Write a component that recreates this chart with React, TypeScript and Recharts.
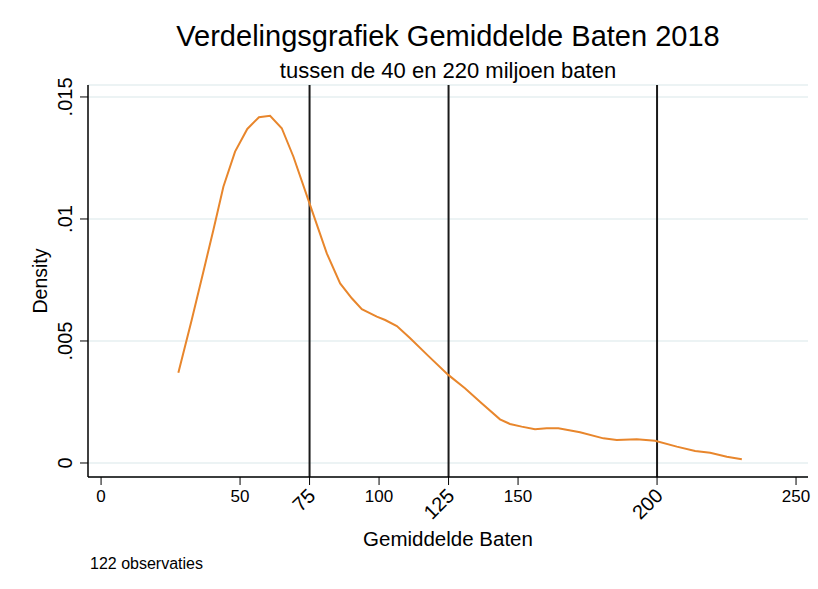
import React from "react";
import {
  CartesianGrid,
  Label,
  Line,
  LineChart,
  ReferenceLine,
  XAxis,
  YAxis,
} from "recharts";

// kernel density estimate
const baten = [
  27.8, 32.6, 36.8, 40.4, 44.0, 48.2, 52.6, 56.8, 60.8, 65.0, 69.2, 75.2,
  81.2, 86.0, 90.2, 93.8, 99.2, 102.2, 106.4, 111.2, 117.7, 124.9, 130.9,
  136.9, 143.5, 147.1, 151.3, 156.1, 160.3, 164.5, 172.3, 180.7, 185.5,
  192.7, 199.3, 207.1, 213.7, 219.1, 225.1, 230.5,
];
const density = [
  0.0037, 0.00586, 0.00784, 0.00955, 0.01132, 0.01276, 0.01369, 0.01417,
  0.01423, 0.01372, 0.01255, 0.01057, 0.00859, 0.00736, 0.00675, 0.0063,
  0.006, 0.00586, 0.00561, 0.00511, 0.00439, 0.00361, 0.00306, 0.00245,
  0.00179, 0.0016, 0.00149, 0.00138, 0.00142, 0.00142, 0.00126, 0.00101,
  0.00094, 0.00097, 0.00091, 0.00067, 0.00049, 0.00042, 0.00026, 0.00015,
];
const xTicks = [0, 50, 75, 100, 125, 150, 200, 250];
const markers = [75, 125, 200];
const yTicks = [0, 0.005, 0.01, 0.015];
const yTickLabels = ["0", ".005", ".01", ".015"];

const chartData = baten.map((x, i) => ({ x, y: density[i] }));

const FONT = "'Liberation Sans', Arial, Helvetica, sans-serif";

function XTick(props: any) {
  const { x, y, payload } = props;
  const v = payload.value;
  if (markers.includes(v)) {
    const ax = x + 7;
    const ay = y + 10;
    return (
      <text
        x={ax}
        y={ay}
        transform={`rotate(-45 ${ax} ${ay})`}
        textAnchor="end"
        fontSize={20}
        fill="#000"
        fontFamily={FONT}
      >
        {v}
      </text>
    );
  }
  return (
    <text
      x={x}
      y={y + 9}
      textAnchor="middle"
      dominantBaseline="central"
      fontSize={17}
      fill="#000"
      fontFamily={FONT}
    >
      {v}
    </text>
  );
}

function YTick(props: any) {
  const { x, y, payload } = props;
  const idx = yTicks.indexOf(payload.value);
  const tx = x - 13;
  return (
    <text
      x={tx}
      y={y}
      transform={`rotate(-90 ${tx} ${y})`}
      textAnchor="middle"
      dominantBaseline="central"
      fontSize={20}
      fill="#000"
      fontFamily={FONT}
    >
      {idx >= 0 ? yTickLabels[idx] : payload.value}
    </text>
  );
}

export default function App() {
  return (
    <div
      style={{
        position: "fixed",
        left: 0,
        top: 0,
        width: 818,
        height: 589,
        background: "#fff",
        fontFamily: FONT,
      }}
    >
      <div
        style={{
          position: "absolute",
          top: 20,
          left: 88,
          width: 720,
          textAlign: "center",
          fontSize: 29,
          whiteSpace: "nowrap",
        }}
      >
        Verdelingsgrafiek Gemiddelde Baten 2018
      </div>
      <div
        style={{
          position: "absolute",
          top: 58,
          left: 88,
          width: 720,
          textAlign: "center",
          fontSize: 22,
          whiteSpace: "nowrap",
        }}
      >
        tussen de 40 en 220 miljoen baten
      </div>
      <div style={{ position: "absolute", top: 555, left: 90, fontSize: 16 }}>
        122 observaties
      </div>
      <div style={{ position: "absolute", left: 0, top: 0 }}>
        <LineChart
          width={818}
          height={589}
          data={chartData}
          margin={{ top: 85, right: 10, left: 0, bottom: 0 }}
        >
          <CartesianGrid vertical={false} stroke="#e6eff1" strokeWidth={1.5} />
          <XAxis
            dataKey="x"
            type="number"
            domain={[-4.7, 254.3]}
            ticks={xTicks}
            interval={0}
            allowDataOverflow
            height={112}
            tick={<XTick />}
            tickSize={8}
            tickLine={{ stroke: "#000" }}
            axisLine={{ stroke: "#000", strokeWidth: 1.5 }}
          >
            <Label
              value="Gemiddelde Baten"
              position="insideTop"
              offset={54}
              fontSize={20.5}
              fill="#000"
              fontFamily={FONT}
            />
          </XAxis>
          <YAxis
            type="number"
            domain={[-0.000574, 0.01549]}
            ticks={yTicks}
            interval={0}
            allowDataOverflow
            width={88}
            tick={<YTick />}
            tickSize={8}
            tickLine={{ stroke: "#000" }}
            axisLine={{ stroke: "#000", strokeWidth: 1.5 }}
          >
            <Label
              value="Density"
              angle={-90}
              position="insideLeft"
              offset={40}
              fontSize={19.5}
              fill="#000"
              fontFamily={FONT}
              style={{ textAnchor: "middle" }}
            />
          </YAxis>
          {markers.map((m) => (
            <ReferenceLine key={m} x={m} stroke="#1a1a1a" strokeWidth={2} />
          ))}
          <Line
            type="linear"
            dataKey="y"
            stroke="#e8862c"
            strokeWidth={2}
            dot={false}
            isAnimationActive={false}
          />
        </LineChart>
      </div>
    </div>
  );
}
